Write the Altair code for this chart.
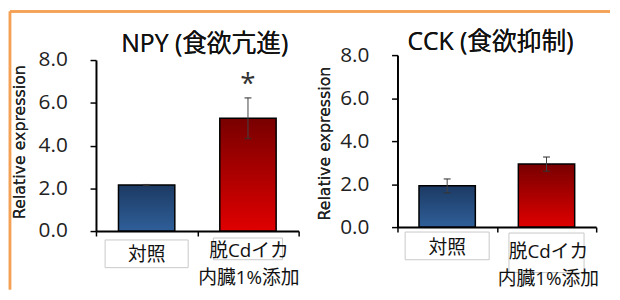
import altair as alt
import pandas as pd

# ---- data ----
categories = ["対照", "脱Cdイカ\n内臓1%添加"]
npy_mean = [2.15, 5.28]
npy_err = [0.02, 0.95]
npy_sig = ["", "*"]
cck_mean = [1.92, 2.93]
cck_err = [0.32, 0.33]
cck_sig = ["", ""]
titles = ["NPY (食欲亢進)", "CCK (食欲抑制)"]
y_title = "Relative expression"
y_ticks = [0, 2, 4, 6, 8]

FONT = "Open Sans, Noto Sans CJK JP, sans-serif"
TITLE_FONT = "DejaVu Sans, sans-serif"

grad_blue = {"gradient": "linear", "x1": 0, "y1": 0, "x2": 0, "y2": 1,
             "stops": [{"offset": 0, "color": "#1c3a63"}, {"offset": 1, "color": "#2f5f99"}]}
grad_red = {"gradient": "linear", "x1": 0, "y1": 0, "x2": 0, "y2": 1,
            "stops": [{"offset": 0, "color": "#780000"}, {"offset": 1, "color": "#e00000"}]}
grads = [grad_blue, grad_red]


def panel(mean, err, sig, title, width, height, yrange, lay, border=False):
    df = pd.DataFrame({
        "cat": categories,
        "mean": mean,
        "lo": [m - e for m, e in zip(mean, err)],
        "hi": [m + e for m, e in zip(mean, err)],
        "sig": sig,
    })
    base = alt.Chart(df)
    xs = alt.Scale(domain=categories, paddingInner=0, paddingOuter=0)
    x_axis = alt.Axis(labels=False, title=None, tickBand="extent", grid=False,
                      domainColor="black", domainWidth=2, tickColor="black",
                      tickWidth=1.5, tickSize=5)
    ys = alt.Scale(domain=[0, 8], range=yrange, nice=False, zero=True)
    y_axis = alt.Axis(values=y_ticks, format=".1f", title=None, grid=False,
                      labelFont=FONT, labelFontSize=21, labelColor="#222",
                      labelPadding=23, tickSize=6, domainColor="black", domainWidth=2,
                      tickColor="black", tickWidth=1.5)
    xn = alt.X("cat:N", sort=categories, scale=xs, axis=x_axis)

    def yq(f):
        return alt.Y(f + ":Q", scale=ys, axis=y_axis)

    layers = []
    for i in range(2):
        sel = alt.FieldEqualPredicate(field="cat", equal=categories[i])
        layers.append(base.transform_filter(sel).mark_bar(
            width=57, fill=grads[i], stroke="black", strokeWidth=1.5).encode(x=xn, y=yq("mean")))

    layers.append(base.mark_rule(color="#444", strokeWidth=1).encode(
        x=xn, y=yq("lo"), y2="hi:Q"))
    for f in ["lo", "hi"]:
        layers.append(base.mark_tick(color="#333", size=7, thickness=1.5, orient="horizontal").encode(
            x=xn, y=yq(f)))
    layers.append(base.mark_text(font=FONT, fontSize=28, color="#333", baseline="alphabetic",
                                 dy=-5).encode(x=xn, y=yq("hi"), text="sig:N"))

    # category labels with boxes
    for i in range(2):
        sel = alt.FieldEqualPredicate(field="cat", equal=categories[i])
        b = lay["boxes"][i]
        layers.append(base.transform_filter(sel).mark_bar(
            width=b[0], fill="white", stroke="#c8c8c8", strokeWidth=1).encode(
            x=xn, y=alt.value(b[1]), y2=alt.value(b[2])))
        t = lay["texts"][i]
        layers.append(base.transform_filter(sel).mark_text(
            font=FONT, fontSize=19, color="#111", baseline="middle", align="center",
            lineBreak="\n", lineHeight=28, dx=t[0]).encode(
            x=xn, y=alt.value(t[1]), text="cat:N"))

    # panel title
    layers.append(alt.Chart(df).mark_text(font=FONT, fontSize=25, color="#111",
                                          baseline="alphabetic", align="center").encode(
        x=alt.value(lay["title"][0]), y=alt.value(lay["title"][1]), text=alt.value(title)))

    # y-axis title
    layers.append(alt.Chart(df).mark_text(font=TITLE_FONT, fontSize=16, color="#222", angle=270,
                                          baseline="middle", align="center").encode(
        x=alt.value(lay["tx"]), y=alt.value(lay["ty"]), text=alt.value(y_title)))

    if border:
        layers.append(alt.Chart(df).mark_rule(color="#f4a055", strokeWidth=2.5).encode(
            x=alt.value(-87), y=alt.value(-44), y2=alt.value(237)))
        layers.append(alt.Chart(df).mark_rule(color="#f4a055", strokeWidth=2.5).encode(
            x=alt.value(-87), x2=alt.value(520), y=alt.value(-44)))

    return alt.layer(*layers).properties(width=width, height=height)


left = panel(npy_mean, npy_err, npy_sig, titles[0], 205, 178, [178, 5],
             {"tx": -77, "ty": 88,
              "boxes": [(84, 187, 215), (70, 185, 207)],
              "texts": [(0, 202), (1, 198)],
              "title": (110, -3)}, border=True)
right = panel(cck_mean, cck_err, cck_sig, titles[1], 201, 174, [174, 0],
              {"tx": -73, "ty": 89.5,
               "boxes": [(85, 179, 207), (76, 180, 220)],
               "texts": [(0, 195), (2, 199)],
               "title": (94, -5)})

chart = (
    alt.hconcat(left, right, spacing=100, bounds="flush")
    .properties(padding=0, background="white")
    .configure_view(stroke=None)
)

chart.save("out.html", embed_options={"renderer": "svg", "actions": False})
